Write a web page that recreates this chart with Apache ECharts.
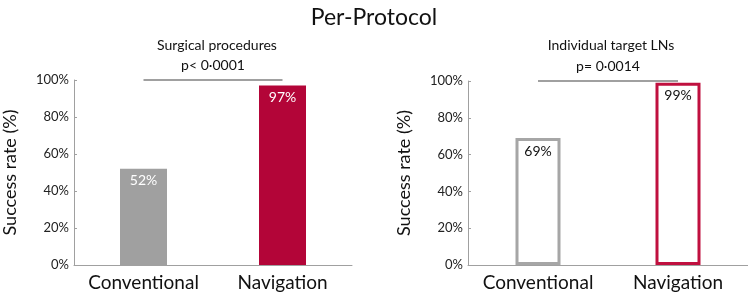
<!DOCTYPE html>
<html><head><meta charset="utf-8">
<script src="https://cdn.jsdelivr.net/npm/echarts@6/dist/echarts.min.js"></script>
<style>html,body{margin:0;padding:0;background:#fff}#c{width:748px;height:294px}</style>
</head><body><div id="c"></div>
<script>
const mainTitle = 'Per-Protocol';
const categories = ['Conventional', 'Navigation'];
const leftTitle = 'Surgical procedures';
const leftP = 'p< 0·0001';
const leftValues = [52, 97];
const rightTitle = 'Individual target LNs';
const rightP = 'p= 0·0014';
const rightValues = [69, 99];
const yTicks = [0, 20, 40, 60, 80, 100];
const yName = 'Success rate (%)';

const FONT = 'Lato';
const grey = '#a0a0a0';
const red = '#b30538';

const chart = echarts.init(document.getElementById('c'), null, {renderer: 'canvas'});

function yAxis(idx) {
  return {
    type: 'value', gridIndex: idx, min: yTicks[0], max: yTicks[yTicks.length - 1], interval: 20,
    name: yName, nameLocation: 'middle', nameGap: 55,
    nameTextStyle: {fontFamily: FONT, fontSize: 18, color: '#111'},
    axisLine: {show: true, lineStyle: {color: grey, width: 1}},
    axisTick: {show: true, inside: true, length: 3, lineStyle: {color: grey}},
    axisLabel: {formatter: '{value}%', fontFamily: FONT, fontSize: 13, color: '#222', margin: 5},
    splitLine: {show: false}
  };
}
function xAxis(idx) {
  return {
    type: 'category', gridIndex: idx, data: categories,
    axisLine: {show: true, lineStyle: {color: grey, width: 1}},
    axisTick: {show: false},
    axisLabel: {interval: 0, fontFamily: FONT, fontSize: 19, color: '#111', margin: 8}
  };
}
function sig(text) {
  return {
    silent: true, symbol: 'none',
    lineStyle: {color: grey, width: 2, type: 'solid'},
    label: {show: true, position: 'middle', formatter: text, fontFamily: FONT, fontSize: 14, color: '#111', distance: 8},
    data: [[{coord: [categories[0], 100]}, {coord: [categories[1], 100]}]]
  };
}

chart.setOption({
  animation: false,
  title: [
    {text: mainTitle, left: 'center', top: 1, textStyle: {fontFamily: FONT, fontSize: 23, fontWeight: 'normal', color: '#111'}},
    {text: leftTitle, left: 212, textAlign: 'center', top: 33, textStyle: {fontFamily: FONT, fontSize: 14, fontWeight: 'normal', color: '#111'}},
    {text: rightTitle, left: 606, textAlign: 'center', top: 33, textStyle: {fontFamily: FONT, fontSize: 14, fontWeight: 'normal', color: '#111'}}
  ],
  grid: [
    {left: 73, right: 396, top: 80, bottom: 29},
    {left: 468, right: 0, top: 81, bottom: 29}
  ],
  xAxis: [xAxis(0), xAxis(1)],
  yAxis: [yAxis(0), yAxis(1)],
  series: [
    {
      type: 'bar', xAxisIndex: 0, yAxisIndex: 0, barWidth: 47,
      data: leftValues.map((v, i) => ({value: v, itemStyle: {color: i === 0 ? grey : red}})),
      label: {show: true, position: 'insideTop', distance: 5, formatter: '{c}%', fontFamily: FONT, fontSize: 14, color: '#fff'},
      markLine: sig(leftP)
    },
    {
      type: 'bar', xAxisIndex: 1, yAxisIndex: 1, barWidth: 45,
      data: rightValues.map((v, i) => ({value: v, itemStyle: {color: '#fff', borderColor: i === 0 ? '#a6a6a6' : '#c0103f', borderWidth: 3}})),
      label: {show: true, position: 'insideTop', distance: 6, formatter: '{c}%', fontFamily: FONT, fontSize: 14, color: '#111'},
      markLine: sig(rightP)
    }
  ]
});
</script></body></html>
